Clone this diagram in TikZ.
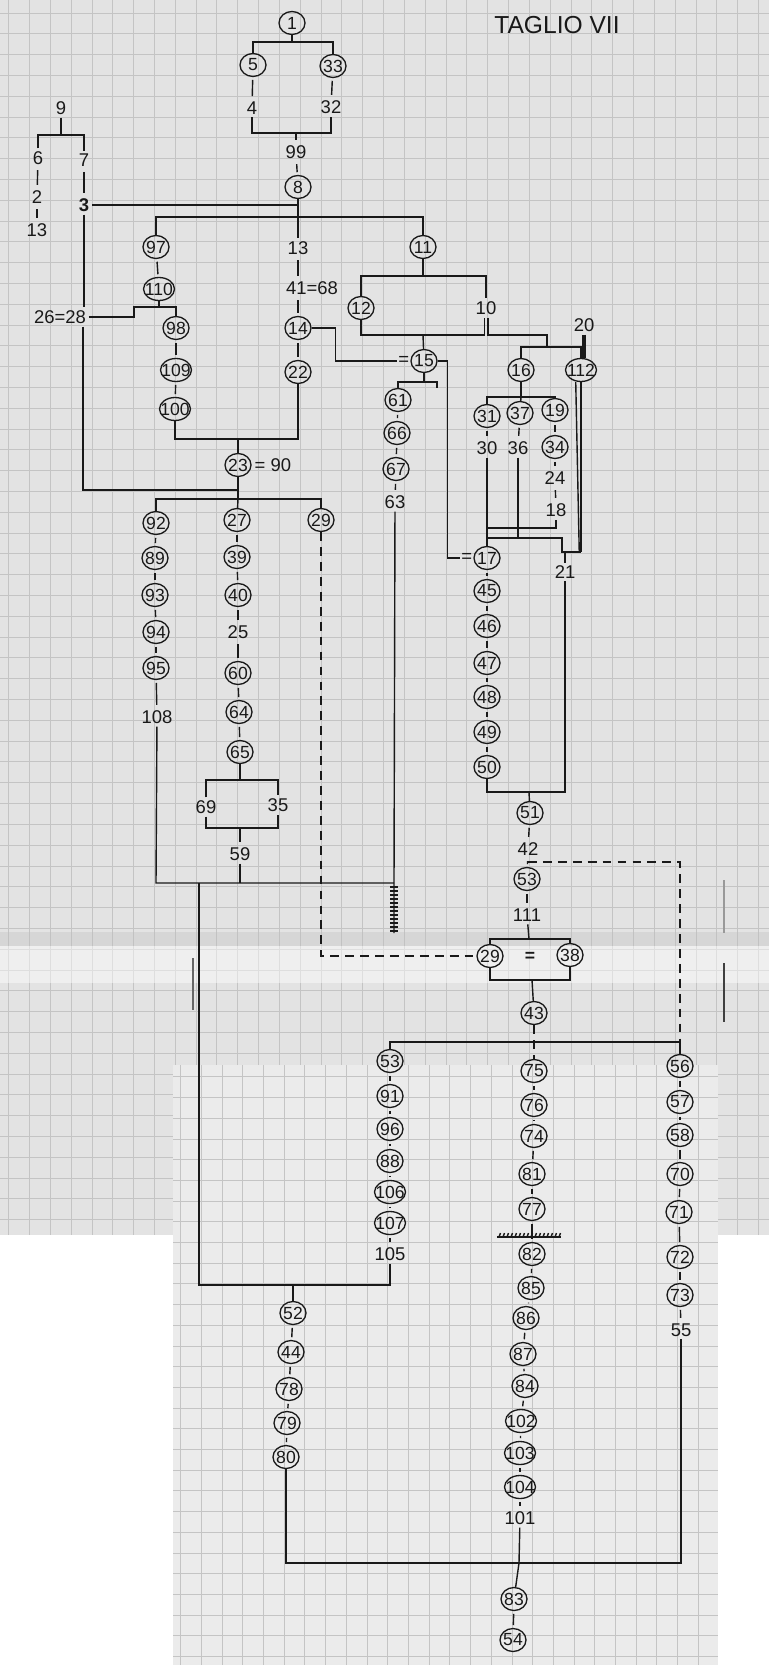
\documentclass[tikz,border=0pt]{standalone}
\usepackage{fontspec}
\setmainfont{Liberation Sans}
\usetikzlibrary{shapes.geometric}
\colorlet{ink}{black!90}
\colorlet{paper}{black!11}
\colorlet{paperb}{black!8}
\colorlet{gridc}{black!23}
\tikzset{
  ms/.style={ellipse,draw=ink,line width=0.75pt,minimum width=0.52cm,minimum height=0.46cm,inner sep=-3pt,text=ink,font=\fontsize{10}{11}\selectfont},
  msw/.style={ms,minimum width=0.62cm},
  lost/.style={inner sep=1.5pt,text=ink,font=\fontsize{10.5}{12}\selectfont},
  ln/.style={draw=ink,line width=0.8pt},
  lnk/.style={ln,shorten >=1.5pt,shorten <=1.5pt},
  dln/.style={ln,dash pattern=on 5pt off 3.5pt},
  gridln/.style={draw=gridc,line width=0.35pt},
}

\begin{document}
\begin{tikzpicture}[x=0.02cm,y=-0.02cm]
  \useasboundingbox (0,0) rectangle (769,1665);

  % the two sheets of squared paper
  \fill[white] (0,0) rectangle (769,1665);
  \fill[paper] (0,0) rectangle (769,1235);
  \foreach \gx in {8.5,29.33,...,769} \draw[gridln] (\gx,0) -- (\gx,1235);
  \foreach \gy in {13,33.8,...,1235} \draw[gridln] (0,\gy) -- (769,\gy);
  \fill[black!25,fill opacity=0.35] (0,932) rectangle (769,946);
  \fill[white,fill opacity=0.45] (0,946) rectangle (769,983);
  \fill[paperb] (173,1065) rectangle (718,1665);
  \foreach \gx in {180.6,201.3,...,718} \draw[gridln] (\gx,1065) -- (\gx,1665);
  \foreach \gy in {1076.7,1097.4,...,1665} \draw[gridln] (173,\gy) -- (718,\gy);
  % creases
  \draw[black!60,line width=0.8pt] (193,958) -- (193,1010);
  \draw[black!75,line width=1.4pt] (724,963) -- (724,1022);
  \draw[black!40,line width=0.6pt] (724,880) -- (724,933);

  \node[text=ink,font=\fontsize{14}{16}\selectfont] (title) at (557,25) {TAGLIO VII};

  % top
  \node[ms] (n1) at (292,23) {1};
  \node[ms] (n5) at (253,65) {5};
  \node[ms] (n33) at (333,66) {33};
  \node[lost] (l4) at (252,108) {4};
  \node[lost] (l32) at (331,107) {32};
  \node[lost] (l99) at (296,152) {99};
  \node[ms] (n8) at (298,187) {8};
  \node[lost] (l13b) at (298,248) {13};
  \node[lost] (l4168) at (312,288) {41=68};
  \node[ms] (n14) at (298,328) {14};
  \node[ms] (n22) at (298,372) {22};

  % branch of 9
  \node[lost] (l9) at (61,108) {9};
  \node[lost] (l6) at (38,158) {6};
  \node[lost] (l7) at (84,160) {7};
  \node[lost] (l2) at (37,197) {2};
  \node[lost] (l13a) at (37,230) {13};
  \node[lost,font=\fontsize{10.5}{12}\selectfont\bfseries] (l3) at (84,205) {3};
  \node[lost] (l2628) at (60,317) {26=28};

  % left group under 8
  \node[ms] (n97) at (156,247) {97};
  \node[msw] (n110) at (159,289) {110};
  \node[ms] (n98) at (176,328) {98};
  \node[msw] (n109) at (176,370) {109};
  \node[msw] (n100) at (175,409) {100};
  \node[ms] (n23) at (238,465) {23};
  \node[lost,anchor=west] (l90) at (n23.east) {= 90};

  % group of 11
  \node[ms] (n11) at (423,247) {11};
  \node[ms] (n12) at (361,308) {12};
  \node[lost] (l10) at (486,308) {10};
  \node[ms] (n15) at (424,361) {15};
  \node[lost,anchor=east,inner sep=0.5pt] (eq15) at (n15.west) {=};
  \node[ms] (n61) at (398,400) {61};
  \node[ms] (n66) at (397,433) {66};
  \node[ms] (n67) at (396,469) {67};
  \node[lost] (l63) at (395,502) {63};
  \node[ms] (n16) at (521,370) {16};
  \node[msw] (n112) at (581,370) {112};
  \node[lost] (l20) at (584,325) {20};
  \node[ms] (n31) at (487,416) {31};
  \node[ms] (n37) at (520,413) {37};
  \node[ms] (n19) at (555,410) {19};
  \node[lost] (l30) at (487,448) {30};
  \node[lost] (l36) at (518,448) {36};
  \node[ms] (n34) at (555,447) {34};
  \node[lost] (l24) at (555,478) {24};
  \node[lost] (l18) at (556,510) {18};
  \node[lost] (l21) at (565,572) {21};
  \node[ms] (n17) at (487,558) {17};
  \node[lost,anchor=east,inner sep=0.5pt] (eq17) at (n17.west) {=};
  \node[ms] (n45) at (487,591) {45};
  \node[ms] (n46) at (487,626) {46};
  \node[ms] (n47) at (487,663) {47};
  \node[ms] (n48) at (487,697) {48};
  \node[ms] (n49) at (487,732) {49};
  \node[ms] (n50) at (487,767) {50};
  \node[ms] (n51) at (530,813) {51};
  \node[lost] (l42) at (528,849) {42};
  \node[ms] (n53a) at (527,879) {53};
  \node[lost] (l111) at (527,915) {111};
  \node[ms] (n29b) at (490,956) {29};
  \node[ms] (n38) at (570,955) {38};
  \node[lost,font=\bfseries] (eq38) at (530,957) {=};
  \node[ms] (n43) at (534,1013) {43};

  % three columns under 23
  \node[ms] (n92) at (156,523) {92};
  \node[ms] (n89) at (155,558) {89};
  \node[ms] (n93) at (155,595) {93};
  \node[ms] (n94) at (156,632) {94};
  \node[ms] (n95) at (156,668) {95};
  \node[lost] (l108) at (157,717) {108};
  \node[ms] (n27) at (237,520) {27};
  \node[ms] (n39) at (237,557) {39};
  \node[ms] (n40) at (238,595) {40};
  \node[lost] (l25) at (238,632) {25};
  \node[ms] (n60) at (238,673) {60};
  \node[ms] (n64) at (239,712) {64};
  \node[ms] (n65) at (240,752) {65};
  \node[lost] (l69) at (206,807) {69};
  \node[lost] (l35) at (278,805) {35};
  \node[lost] (l59) at (240,854) {59};
  \node[ms] (n29a) at (321,520) {29};

  % lower sheet
  \node[ms] (n53b) at (390,1061) {53};
  \node[ms] (n91) at (390,1096) {91};
  \node[ms] (n96) at (390,1129) {96};
  \node[ms] (n88) at (390,1161) {88};
  \node[msw] (n106) at (390,1192) {106};
  \node[msw] (n107) at (390,1223) {107};
  \node[lost] (l105) at (390,1254) {105};
  \node[ms] (n75) at (534,1071) {75};
  \node[ms] (n76) at (534,1105) {76};
  \node[ms] (n74) at (534,1136) {74};
  \node[ms] (n81) at (532,1174) {81};
  \node[ms] (n77) at (532,1209) {77};
  \node[ms] (n82) at (532,1254) {82};
  \node[ms] (n85) at (531,1288) {85};
  \node[ms] (n86) at (526,1318) {86};
  \node[ms] (n87) at (523,1354) {87};
  \node[ms] (n84) at (525,1386) {84};
  \node[msw] (n102) at (521,1421) {102};
  \node[msw] (n103) at (520,1453) {103};
  \node[msw] (n104) at (520,1487) {104};
  \node[lost] (l101) at (520,1518) {101};
  \node[ms] (n83) at (514,1599) {83};
  \node[ms] (n54) at (513,1640) {54};
  \node[ms] (n56) at (680,1066) {56};
  \node[ms] (n57) at (680,1102) {57};
  \node[ms] (n58) at (680,1135) {58};
  \node[ms] (n70) at (680,1174) {70};
  \node[ms] (n71) at (679,1212) {71};
  \node[ms] (n72) at (680,1257) {72};
  \node[ms] (n73) at (680,1295) {73};
  \node[lost] (l55) at (681,1330) {55};
  \node[ms] (n52) at (293,1313) {52};
  \node[ms] (n44) at (291,1352) {44};
  \node[ms] (n78) at (289,1389) {78};
  \node[ms] (n79) at (287,1423) {79};
  \node[ms] (n80) at (286,1457) {80};

  % junctions
  \coordinate (b1) at (292,42);
  \coordinate (b2) at (296,133);
  \coordinate (b9) at (61,135);
  \coordinate (b8) at (298,217);
  \coordinate (b110) at (159,307);
  \coordinate (b100) at (238,439);
  \coordinate (b28) at (83,490);
  \coordinate (b23) at (238,499);
  \coordinate (b11) at (423,276);
  \coordinate (b12) at (423,335);
  \coordinate (b10) at (547,335);
  \coordinate (b16) at (547,347);
  \coordinate (b15) at (424,382);
  \coordinate (b16b) at (521,397);
  \coordinate (b30) at (487,528);
  \coordinate (b36) at (518,538);
  \coordinate (b112) at (581,552);
  \coordinate (b50) at (529,792);
  \coordinate (b42) at (528,862);
  \coordinate (b111) at (529,939);
  \coordinate (b43) at (532,980);
  \coordinate (b65) at (240,780);
  \coordinate (b69) at (240,828);
  \coordinate (b108) at (156,883);
  \coordinate (b63) at (394,883);
  \coordinate (b199) at (199,883);
  \coordinate (b105) at (293,1285);
  \coordinate (b56) at (680,1042);
  \coordinate (cut82) at (529,1237);
  \coordinate (b101) at (519,1563);

  % single links
  \foreach \a/\b in {n5/l4,n33/l32,l99/n8,l6/l2,l2/l13a,l7/l3,n14/n22,n97/n110,n98/n109,n109/n100,
      n61/n66,n66/n67,n67/l63,n31/l30,n37/l36,n19/n34,n34/l24,l24/l18,
      n17/n45,n45/n46,n46/n47,n47/n48,n48/n49,n49/n50,n51/l42,l42/n53a,n53a/l111,
      n92/n89,n89/n93,n93/n94,n94/n95,n95/l108,n27/n39,n39/n40,n40/l25,l25/n60,n60/n64,n64/n65,
      n53b/n91,n91/n96,n96/n88,n88/n106,n106/n107,n107/l105,
      n75/n76,n76/n74,n74/n81,n81/n77,n77/n82,n82/n85,n85/n86,n86/n87,n87/n84,n84/n102,n102/n103,n103/n104,n104/l101,
      n56/n57,n57/n58,n58/n70,n70/n71,n71/n72,n72/n73,n73/l55,
      n52/n44,n44/n78,n78/n79,n79/n80,n83/n54}
    \draw[lnk] (\a) -- (\b);
  \draw[lnk] (l13b) -- (l13b |- l4168.north);
  \draw[lnk] (l4168.south -| n14) -- (n14);

  % top brackets
  \draw[ln] (n1) -- (b1);
  \draw[ln] (n5.north) |- (b1) -| (n33.north);
  \draw[ln] (l4.south) |- (b2) -| (l32.south);
  \draw[ln,shorten >=1.5pt] (b2) -- (l99);
  \draw[ln] (n8) -- (l13b);
  \draw[ln] (l3.east) -- (n8 |- l3.east);
  \draw[ln] (n97.north) |- (b8) -| (n11.north);
  \draw[ln] (l9) -- (b9);
  \draw[ln] (l6.north) |- (b9) -| (l7.north);
  \draw[ln] (l3.south) -- (l3.south |- l2628.north);
  \draw[ln] (b28 |- l2628.south) -- (b28) -- (b28 -| n23);

  % left group
  \draw[ln] (n110) -- (b110) -| (n98.north);
  \draw[ln] (b110) -- ++(-25,0) |- (l2628.east);
  \draw[ln,line width=1.3pt] (l2628.east) -- ++(18,0);
  \draw[ln] (n100.south) |- (b100) -| (n22.south);
  \draw[ln] (b100) -- (n23);
  \draw[ln] (n23) -- (b23);
  \draw[ln] (n92.north) |- (b23) -| (n29a.north);
  \draw[ln] (b23) -- (n27);

  % group of 11
  \draw[ln] (n11) -- (b11);
  \draw[ln] (n12.north) |- (b11) -| (l10.north);
  \draw[ln] (n12.south) |- (b12) -| ([xshift=-1pt]l10.south);
  \draw[ln] ([xshift=1.2pt]l10.south) |- (b10) -- (b16);
  \draw[ln] (n16.north) |- (b16) -| (n112.north);
  \draw[ln,line width=2pt] (l20.south) -- (l20.south |- n112.north);
  \draw[ln] (b12) -- (n15);
  \draw[ln] (n14.east) -- ++(24,0) |- (eq15.west);
  \draw[ln] (n15) -- (b15);
  \draw[ln] (n61.north) |- (b15) -- ++(13,0) -- ++(0,6);
  \draw[ln] (n15.east) -- ++(10,0) |- (eq17.west);
  \draw[ln] (l63) -- (b63) -- ++(0,50);
  \foreach \hy in {4,8,...,48}
    \draw[ln] (b63) ++(-4,\hy) -- ++(8,0);

  % group of 16
  \draw[ln] (n16) -- (b16b);
  \draw[ln] (n31.north) |- (b16b) -| (n19.north);
  \draw[ln] (b16b) -- (n37);
  \draw[ln] (l30.south) -- (n17.north);
  \draw[ln] (l30 |- b30) -| (l18.south);
  \draw[ln] (l36.south) -- (b36);
  \draw[ln] (l30 |- b36) -- ++(75,0) |- (b112);
  \draw[ln] (n112.south) -- (b112);
  \draw[ln] ([xshift=-3pt]n112.south) -- ([xshift=-1pt]b112);
  \draw[ln] (l21.north |- b112) -- (l21.north);
  \draw[ln] (l21.south) |- (b50) -| (n50.south);
  \draw[ln] (b50) -- (n51);
  \draw[dln] (b42) -| (b56);
  \draw[ln] (l111) -- (b111);
  \draw[ln] (n29b.north) |- (b111) -| (n38.north);
  \draw[ln] (n29b.south) |- (b43) -| (n38.south);
  \draw[ln] (b43) -- (n43);
  \draw[dln] (n29a.south) |- (n29b.west);

  % three columns under 23
  \draw[ln] (l108) -- (b108) -- (b63);
  \draw[ln] (n65) -- (b65);
  \draw[ln] (l69.north) |- (b65) -| (l35.north);
  \draw[ln] (l69.south) |- (b69) -| (l35.south);
  \draw[ln,shorten >=1.5pt] (b69) -- (l59);
  \draw[ln] (l59) -- (l59 |- b108);

  % lower sheet
  \draw[ln] (b199) |- (b105) -| (l105.south);
  \draw[ln] (b105) -- (n52);
  \draw[ln] (n53b.north) |- (b56) -- (n56.north);
  \draw[dln] (n43) -- (n75);
  \draw[ln] (cut82) ++(-32,0) -- ++(64,0);
  \foreach \hx in {-30,-26,...,30}
    \draw[ln] (cut82) ++(\hx,0) -- ++(1.5,-4);
  \draw[ln] (n80.south) |- (b101) -| (l55.south);
  \draw[ln] (l101) -- (b101) -- (n83);
\end{tikzpicture}
\end{document}
